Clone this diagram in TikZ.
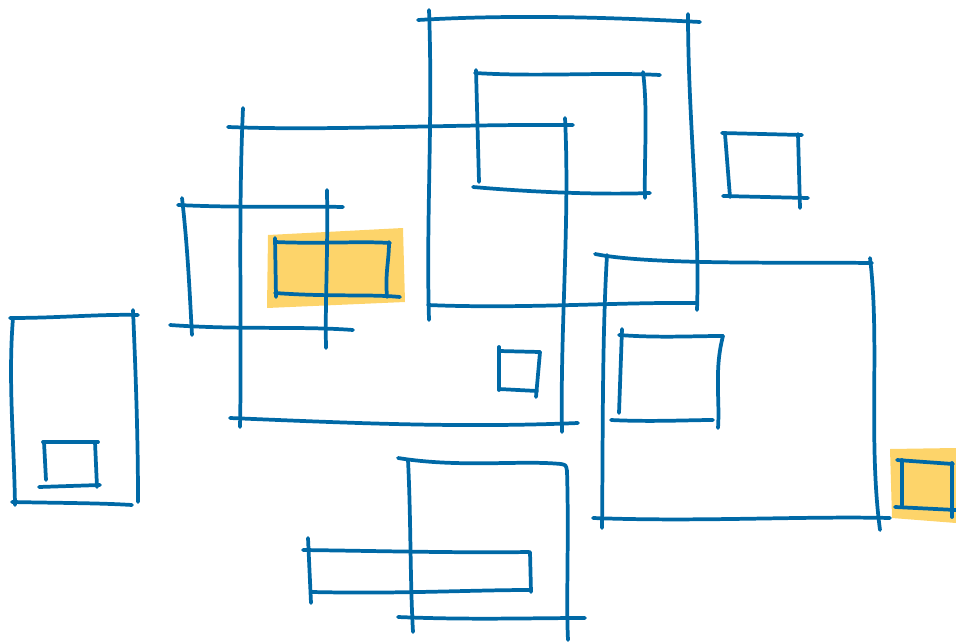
\documentclass[tikz,border=0pt]{standalone}
\definecolor{skblue}{RGB}{0,105,166}
\definecolor{skyellow}{RGB}{253,212,106}
\begin{document}
\begin{tikzpicture}[x=0.75pt,y=-0.75pt,
  ln/.style={draw=skblue,line width=2.8pt,line cap=round,line join=round},
  hl/.style={fill=skyellow,draw=none}]
\useasboundingbox (0,0) rectangle (956,642);
% highlights
\fill[hl] (268,235) -- (403,228) -- (405,302) -- (267,308) -- cycle;
\fill[hl] (890,449) -- (956,448) -- (956,523) -- (892,518) -- cycle;
% Box A
\draw[ln] (228,127) .. controls (330,131) and (450,124) .. (573,125);
\draw[ln] (243,108) .. controls (238,220) and (242,330) .. (240,427);
\draw[ln] (230,418) .. controls (350,423) and (460,428) .. (578,423);
\draw[ln] (565,118) .. controls (570,220) and (560,330) .. (562,432);
% Box B
\draw[ln] (178,205) .. controls (240,208) and (300,206) .. (343,207);
\draw[ln] (182,198) .. controls (188,250) and (190,300) .. (192,335);
\draw[ln] (170,325) .. controls (240,330) and (300,326) .. (353,330);
\draw[ln] (327,190) .. controls (328,260) and (325,300) .. (326,348);
% highlighted box
\draw[ln] (275,242) .. controls (320,244) and (360,241) .. (390,243);
\draw[ln] (275,238) -- (276,297);
\draw[ln] (275,293) .. controls (330,297) and (370,294) .. (400,297);
\draw[ln] (389,242) .. controls (389,262) and (385,272) .. (387,297);
% Box C
\draw[ln] (499,347) -- (499,390);
\draw[ln] (499,351) -- (540,352);
\draw[ln] (540,352) -- (536,397);
\draw[ln] (499,389) -- (537,391);
% Box D
\draw[ln] (418,20) .. controls (520,14) and (620,18) .. (700,22);
\draw[ln] (429,10) .. controls (433,120) and (426,220) .. (429,320);
\draw[ln] (688,14) .. controls (688,120) and (700,220) .. (697,310);
\draw[ln] (428,305) .. controls (520,309) and (620,302) .. (697,303);
% Box E
\draw[ln] (475,73) .. controls (540,77) and (600,72) .. (660,75);
\draw[ln] (476,70) -- (479,182);
\draw[ln] (643,72) .. controls (648,110) and (644,160) .. (645,198);
\draw[ln] (473,187) .. controls (530,192) and (600,195) .. (650,193);
% Box F
\draw[ln] (595,254) .. controls (650,265) and (780,262) .. (872,263);
\draw[ln] (607,255) .. controls (602,340) and (603,440) .. (602,528);
\draw[ln] (870,258) .. controls (880,340) and (868,440) .. (880,530);
\draw[ln] (593,518) .. controls (700,522) and (800,516) .. (890,518);
% Box G
\draw[ln] (619,335) .. controls (660,338) and (690,336) .. (723,336);
\draw[ln] (622,329) -- (619,413);
\draw[ln] (723,336) .. controls (714,370) and (720,400) .. (718,428);
\draw[ln] (611,420) .. controls (650,422) and (690,420) .. (713,420);
% Box H
\draw[ln] (897,460) -- (953,464);
\draw[ln] (902,460) -- (902,505);
\draw[ln] (895,507) -- (956,510);
\draw[ln] (952,463) -- (952,517);
% Box I
\draw[ln] (10,318) .. controls (60,318) and (100,314) .. (138,315);
\draw[ln] (13,318) .. controls (8,380) and (14,440) .. (15,505);
\draw[ln] (133,310) .. controls (136,380) and (138,440) .. (138,502);
\draw[ln] (12,502) .. controls (60,503) and (100,503) .. (132,505);
% Box J
\draw[ln] (43,442) -- (98,442);
\draw[ln] (44,442) -- (46,480);
\draw[ln] (95,442) -- (97,487);
\draw[ln] (39,487) -- (100,485);
% Box K
\draw[ln] (398,458) .. controls (460,468) and (520,460) .. (561,464) .. controls (566,465) .. (567,471);
\draw[ln] (408,460) .. controls (411,520) and (410,580) .. (413,632);
\draw[ln] (567,471) .. controls (569,540) and (566,600) .. (568,640);
\draw[ln] (398,617) .. controls (470,620) and (530,618) .. (585,618);
% Box L
\draw[ln] (303,550) .. controls (380,551) and (460,553) .. (529,552);
\draw[ln] (308,538) -- (311,603);
\draw[ln] (530,552) -- (531,592);
\draw[ln] (312,592) .. controls (400,594) and (470,590) .. (530,590);
% Box M
\draw[ln] (722,133) -- (802,135);
\draw[ln] (725,134) -- (730,197);
\draw[ln] (798,134) -- (800,208);
\draw[ln] (723,196) -- (808,198);
\end{tikzpicture}
\end{document}
